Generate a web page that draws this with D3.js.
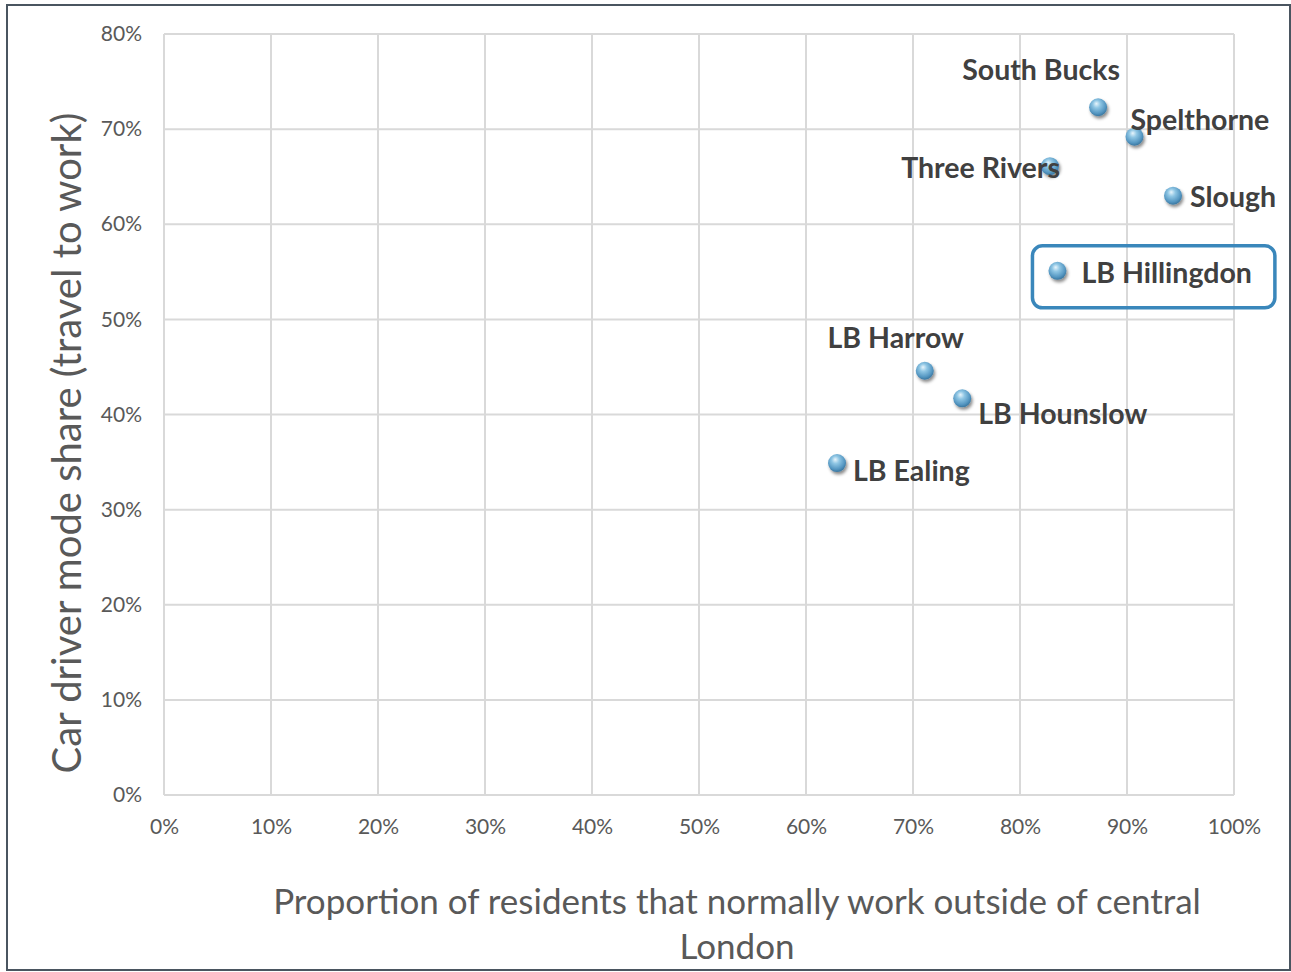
<!DOCTYPE html>
<html>
<head>
<meta charset="utf-8" />
<title>Car driver mode share</title>
<script type="text/javascript" src="https://cdn.jsdelivr.net/npm/d3@7/dist/d3.min.js"></script>
<style>
body { margin:0; background:#fff; }
text { font-family: Lato, "Open Sans", sans-serif; }
</style>
</head>
<body>
<div id="chart"></div>
<script>
// values (fractions)
var areas = ["South Bucks","Spelthorne","Three Rivers","Slough","LB Hillingdon","LB Harrow","LB Hounslow","LB Ealing"];
var outsideShare = [0.873, 0.907, 0.828, 0.943, 0.835, 0.711, 0.746, 0.629];
var carShare = [0.723, 0.692, 0.661, 0.630, 0.551, 0.446, 0.417, 0.349];
var xTicks = [0,0.1,0.2,0.3,0.4,0.5,0.6,0.7,0.8,0.9,1.0];
var yTicks = [0,0.1,0.2,0.3,0.4,0.5,0.6,0.7,0.8];
var highlighted = "LB Hillingdon";

// label placement relative to marker: [dx, dy, anchor]
var labelPos = {
	"South Bucks": [-57,-37,"middle"],
	"Spelthorne": [-4,-17,"start"],
	"Three Rivers": [10,2,"end"],
	"Slough": [17,1,"start"],
	"LB Hillingdon": [24,2,"start"],
	"LB Harrow": [-29,-33,"middle"],
	"LB Hounslow": [16,16,"start"],
	"LB Ealing": [16,8,"start"]
};

const width = 1291, height = 972;
const plot = {left:164, right:1234, top:34, bottom:795};

const svg = d3.select("#chart").append("svg")
	.attr("width", width)
	.attr("height", height);

var defs = svg.append("defs");
var grad = defs.append("radialGradient")
	.attr("id","ball")
	.attr("cx","45%").attr("cy","38%").attr("r","60%")
	.attr("fx","40%").attr("fy","30%");
grad.append("stop").attr("offset","0%").attr("stop-color","#e8f5fc");
grad.append("stop").attr("offset","35%").attr("stop-color","#8fc6e4");
grad.append("stop").attr("offset","80%").attr("stop-color","#5597c2");
grad.append("stop").attr("offset","100%").attr("stop-color","#3d7aa3");
var shadow = defs.append("filter").attr("id","shadow")
	.attr("x","-50%").attr("y","-50%").attr("width","200%").attr("height","200%");
shadow.append("feDropShadow")
	.attr("dx",1.5).attr("dy",2.5).attr("stdDeviation",1.8)
	.attr("flood-color","#000").attr("flood-opacity",0.45);

// outer border
svg.append("rect")
	.attr("x",7).attr("y",5)
	.attr("width",1283).attr("height",965)
	.attr("fill","#fff")
	.attr("stroke","#4a5560").attr("stroke-width",2);

var x = d3.scaleLinear().domain([0,1]).range([plot.left, plot.right]);
var y = d3.scaleLinear().domain([0,0.8]).range([plot.bottom, plot.top]);
var pct = d3.format(".0%");

// gridlines
svg.append("g")
	.selectAll("line.v")
	.data(xTicks)
	.enter().append("line")
		.attr("x1", d=>x(d)).attr("x2", d=>x(d))
		.attr("y1", plot.top).attr("y2", plot.bottom)
		.attr("stroke","#d9d9d9").attr("stroke-width",2);
svg.append("g")
	.selectAll("line.h")
	.data(yTicks)
	.enter().append("line")
		.attr("x1", plot.left).attr("x2", plot.right)
		.attr("y1", d=>y(d)).attr("y2", d=>y(d))
		.attr("stroke","#d9d9d9").attr("stroke-width",2);

// axes (labels only, lines hidden)
var xAxis = svg.append("g")
	.attr("transform","translate(0,"+plot.bottom+")")
	.call(d3.axisBottom(x).tickValues(xTicks).tickFormat(pct).tickSize(0).tickPadding(24));
var yAxis = svg.append("g")
	.attr("transform","translate("+plot.left+",0)")
	.call(d3.axisLeft(y).tickValues(yTicks).tickFormat(pct).tickSize(0).tickPadding(22));
[xAxis, yAxis].forEach(function(a){
	a.select(".domain").remove();
	a.selectAll("text")
		.style("font-family","Lato, sans-serif")
		.style("font-size","21px")
		.attr("fill","#595959");
});

// axis titles
svg.append("text")
	.attr("transform","translate(81,443) rotate(-90)")
	.attr("text-anchor","middle")
	.style("font-size","40px")
	.attr("fill","#595959")
	.text("Car driver mode share (travel to work)");
svg.append("text")
	.attr("x",737).attr("y",914)
	.attr("text-anchor","middle")
	.style("font-size","35px")
	.attr("fill","#595959")
	.text("Proportion of residents that normally work outside of central");
svg.append("text")
	.attr("x",737).attr("y",959)
	.attr("text-anchor","middle")
	.style("font-size","35px")
	.attr("fill","#595959")
	.text("London");

var data = areas.map(function(n,i){ return {name:n, ox:outsideShare[i], car:carShare[i]}; });

// points
svg.append("g")
	.selectAll("circle")
	.data(data)
	.enter().append("circle")
		.attr("cx", d=>x(d.ox))
		.attr("cy", d=>y(d.car))
		.attr("r", 9)
		.attr("fill","url(#ball)")
		.attr("filter","url(#shadow)");

// labels
var labels = svg.append("g")
	.selectAll("text")
	.data(data)
	.enter().append("text")
		.attr("x", d=>x(d.ox) + labelPos[d.name][0])
		.attr("y", d=>y(d.car) + labelPos[d.name][1])
		.attr("dy","0.35em")
		.attr("text-anchor", d=>labelPos[d.name][2])
		.style("font-size","28.5px")
		.style("font-weight","bold")
		.attr("fill","#404040")
		.text(d=>d.name);

// highlight box around the highlighted area
var hl = data.find(d=>d.name===highlighted);
var hlText = labels.filter(d=>d.name===highlighted).node().getBBox();
svg.append("rect")
	.attr("x", x(hl.ox) - 25)
	.attr("y", y(hl.car) - 25)
	.attr("width", hlText.x + hlText.width + 23 - (x(hl.ox) - 25))
	.attr("height", 62)
	.attr("rx",10).attr("ry",10)
	.attr("fill","none")
	.attr("stroke","#3a87bb")
	.attr("stroke-width",3.5);
</script>
</body>
</html>
